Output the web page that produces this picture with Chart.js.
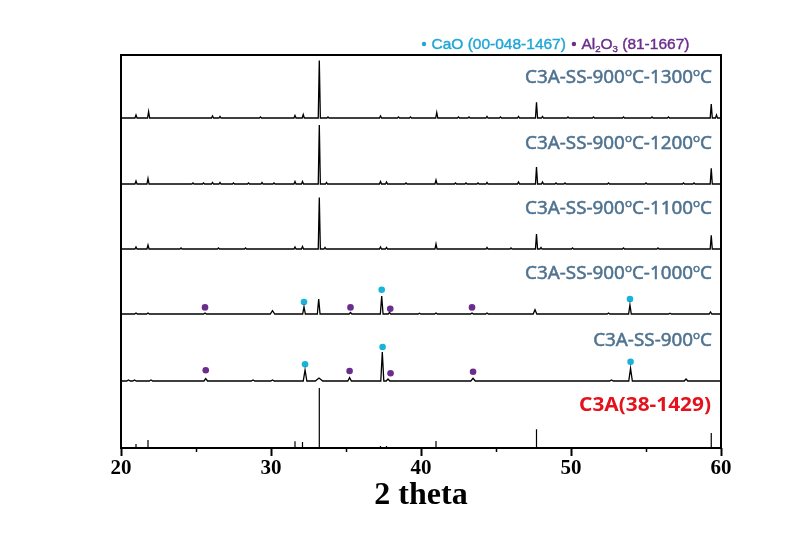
<!DOCTYPE html>
<html>
<head>
<meta charset="utf-8">
<script src="https://cdn.jsdelivr.net/npm/chart.js@4.4.1/dist/chart.umd.min.js"></script>
<style>
  html, body { margin: 0; padding: 0; background: #fff; }
  #wrap { width: 803px; height: 546px; }
</style>
</head>
<body>
<div id="wrap"><canvas id="xrdChart" width="803" height="546"></canvas></div>
<script>
// 2 theta axis
const xTicks = [20, 30, 40, 50, 60];
const xMinorTicks = [25, 35, 45, 55];

// sample traces, top to bottom ('^o' = superscript o)
const sampleLabels = [
  'C3A-SS-900^oC-1300^oC',
  'C3A-SS-900^oC-1200^oC',
  'C3A-SS-900^oC-1100^oC',
  'C3A-SS-900^oC-1000^oC',
  'C3A-SS-900^oC'
];
const sampleOffsets = [330, 264, 199, 134, 67];
const sampleHalfWidths = [0.07, 0.07, 0.07, 0.09, 0.12];

// peaks: [2theta, height, (half width)]
const peaks1300 = [[21.0, 3], [21.84, 6.5], [26.1, 2], [26.6, 1.5], [29.3, 1], [31.6, 2.5], [32.15, 3.5],
  [33.22, 57.6], [33.8, 1], [37.3, 2], [38.5, 1], [39.3, 1], [41.05, 5.5], [42.5, 1], [43.2, 1], [44.4, 1.5],
  [45.3, 1], [46.5, 1.5], [47.7, 15.6], [48.1, 1.5], [49.8, 1], [51.5, 1], [53.5, 1], [55.4, 1], [56.5, 1],
  [59.35, 14], [59.7, 3]];
const peaks1200 = [[21.0, 3], [21.8, 5.5], [24.8, 1], [25.5, 1], [26.1, 1.5], [26.6, 1.5], [27.5, 1], [28.5, 1],
  [29.4, 1.5], [30.2, 1], [31.6, 2.5], [32.1, 2.5], [33.22, 59], [33.7, 1.5], [37.3, 2.5], [37.7, 2], [39.0, 1],
  [41.0, 4], [42.3, 1], [43.0, 1], [43.8, 1], [44.4, 1.5], [46.5, 2], [47.7, 17], [48.1, 2], [49.0, 1], [49.6, 1],
  [52.5, 1], [55.0, 1], [57.5, 1], [58.2, 1], [59.35, 15.6]];
const peaks1100 = [[21.0, 2], [21.8, 4], [24.0, 1], [26.5, 1], [28.3, 1], [31.6, 2], [32.1, 2.5], [33.22, 51.5],
  [33.6, 1.5], [37.3, 2], [37.7, 1.5], [41.0, 5], [44.4, 1.5], [46.0, 1], [47.7, 15], [48.0, 1.5], [50.1, 1],
  [53.5, 1], [55.8, 1], [59.35, 13.6]];
const peaks1000 = [[21.0, 1], [21.8, 1], [25.6, 1], [30.1, 3.3, 0.15], [32.2, 7], [33.18, 15], [35.3, 1.5],
  [37.38, 18], [37.9, 1.5], [39.9, 0.8], [41.0, 1], [43.4, 1], [44.4, 1], [47.6, 4.3, 0.12], [52.5, 1],
  [53.93, 9], [56.6, 0.8], [59.3, 2]];
const peaks900 = [[20.5, 1], [20.9, 1], [22.0, 1], [25.65, 2.5], [28.8, 1], [30.1, 1], [32.27, 11], [33.2, 3, 0.25],
  [35.24, 3.3], [37.42, 29, 0.1], [37.8, 2], [43.47, 2.7, 0.15], [52.7, 1], [53.97, 12.7], [57.67, 2]];
const samplePeaks = [peaks1300, peaks1200, peaks1100, peaks1000, peaks900];

// reference pattern sticks: [2theta, height]
const refLabel = 'C3A(38-1429)';
const refSticks = [[20.6, 1], [21.0, 4], [21.8, 8], [25.0, 1], [26.1, 1], [27.0, 1], [29.5, 1], [31.6, 6.7],
  [32.1, 6], [33.22, 60], [35.1, 1], [37.3, 2], [37.7, 2], [39.0, 1], [41.0, 7], [41.5, 1], [43.3, 1], [44.4, 1],
  [45.6, 1], [46.2, 1], [47.7, 18.7], [48.1, 1], [49.9, 1], [55.5, 1], [58.2, 1], [59.35, 15]];

// phase markers [2theta, height above trace baseline]
const caoMarks1000 = [[32.2, 12], [37.38, 24.3], [53.93, 15]];
const alMarks1000 = [[25.6, 6.6], [35.3, 6.6], [37.95, 5.3], [43.4, 6.6]];
const caoMarks900 = [[32.27, 16.7], [37.44, 34], [53.97, 19.3]];
const alMarks900 = [[25.65, 10.7], [35.24, 10], [37.97, 7.7], [43.47, 9.3]];

const phaseLegend = [
  { text: 'CaO (00-048-1467)', color: '#1fa6d6' },
  { text: 'Al_2O_3 (81-1667)', color: '#6b2d8d' }
];

const CAO_COLOR = '#19b3da';
const AL_COLOR = '#6a2d8e';
const LABEL_COLOR = '#4f7390';

function buildTrace(peaks, offset, hw) {
  const pts = [{ x: 20, y: offset }];
  peaks.slice().sort((a, b) => a[0] - b[0]).forEach(p => {
    const w = p[2] !== undefined ? p[2] : hw;
    pts.push({ x: p[0] - w, y: offset });
    pts.push({ x: p[0], y: offset + p[1] });
    pts.push({ x: p[0] + w, y: offset });
  });
  pts.push({ x: 60, y: offset });
  return pts;
}

function buildMarks(marks, offset) {
  return marks.map(m => ({ x: m[0], y: offset + m[1] }));
}

const datasets = [];
samplePeaks.forEach((peaks, i) => {
  datasets.push({
    label: sampleLabels[i],
    data: buildTrace(peaks, sampleOffsets[i], sampleHalfWidths[i]),
    borderColor: '#000', borderWidth: 1.3, pointRadius: 0, tension: 0
  });
});
datasets.push({
  label: refLabel,
  data: buildTrace(refSticks, 0, 0),
  borderColor: '#000', borderWidth: 1.2, pointRadius: 0, tension: 0
});
[[caoMarks1000, 134, CAO_COLOR], [alMarks1000, 134, AL_COLOR],
 [caoMarks900, 67, CAO_COLOR], [alMarks900, 67, AL_COLOR]].forEach(m => {
  datasets.push({
    label: 'marks',
    data: buildMarks(m[0], m[1]),
    showLine: false, pointRadius: 3.3, pointBorderWidth: 0,
    pointBackgroundColor: m[2], pointBorderColor: m[2]
  });
});

// draw text with ^x superscript and _x subscript (heavy = thin outline for a semi-bold look)
function richWidth(ctx, text, size, family, weight) {
  let w = 0;
  for (let i = 0; i < text.length; i++) {
    const c = text[i];
    if ((c === '^' || c === '_') && i + 1 < text.length) {
      ctx.font = weight + ' ' + (size * 0.62) + 'px ' + family;
      w += ctx.measureText(text[i + 1]).width;
      i++;
    } else {
      ctx.font = weight + ' ' + size + 'px ' + family;
      w += ctx.measureText(c).width;
    }
  }
  return w;
}
function drawRich(ctx, text, x, y, size, family, weight, heavy) {
  ctx.textBaseline = 'alphabetic';
  ctx.textAlign = 'left';
  for (let i = 0; i < text.length; i++) {
    let c = text[i];
    let dy = 0;
    if ((c === '^' || c === '_') && i + 1 < text.length) {
      ctx.font = weight + ' ' + (size * 0.62) + 'px ' + family;
      dy = c === '^' ? -size * 0.38 : size * 0.18;
      c = text[i + 1];
      i++;
    } else {
      ctx.font = weight + ' ' + size + 'px ' + family;
    }
    ctx.fillText(c, x, y + dy);
    if (heavy) ctx.strokeText(c, x, y + dy);
    x += ctx.measureText(c).width;
  }
}

const decorPlugin = {
  id: 'decor',
  afterDraw(chart) {
    const ctx = chart.ctx;
    const a = chart.chartArea;
    const xs = chart.scales.x;
    const ys = chart.scales.y;
    ctx.save();
    // frame
    ctx.strokeStyle = '#000';
    ctx.lineWidth = 2;
    ctx.strokeRect(a.left, a.top, a.right - a.left, a.bottom - a.top);
    // minor ticks
    ctx.lineWidth = 1.5;
    xMinorTicks.forEach(v => {
      const px = Math.round(xs.getPixelForValue(v)) + 0.5;
      ctx.beginPath();
      ctx.moveTo(px, a.bottom);
      ctx.lineTo(px, a.bottom + 4);
      ctx.stroke();
    });

    // sample labels
    const fam = '"Noto Sans"';
    const size = 18.5;
    const sx = 187 / richWidth(ctx, sampleLabels[0], size, fam, 'normal');
    ctx.fillStyle = LABEL_COLOR;
    ctx.strokeStyle = LABEL_COLOR;
    ctx.lineWidth = 0.5;
    sampleLabels.forEach((lab, i) => {
      const yMid = ys.getPixelForValue(sampleOffsets[i] + 42);
      const w = richWidth(ctx, lab, size, fam, 'normal') * sx;
      ctx.save();
      ctx.translate(a.right - 9 - w, yMid + size * 0.36);
      ctx.scale(sx, 1);
      drawRich(ctx, lab, 0, 0, size, fam, 'normal', true);
      ctx.restore();
    });

    // reference label
    const rsize = 20;
    const rw0 = richWidth(ctx, refLabel, rsize, fam, 'bold');
    const rsx = 132 / rw0;
    ctx.fillStyle = '#e3121c';
    ctx.save();
    ctx.translate(a.right - 10 - rw0 * rsx, ys.getPixelForValue(44.7) + rsize * 0.36);
    ctx.scale(rsx, 1);
    drawRich(ctx, refLabel, 0, 0, rsize, fam, 'bold', false);
    ctx.restore();

    // phase legend above the frame
    let lx = 424;
    const ly = 49;
    const lsize = 15.5;
    const lfam = '"Liberation Sans"';
    ctx.lineWidth = 0.4;
    phaseLegend.forEach(item => {
      ctx.fillStyle = item.color;
      ctx.strokeStyle = item.color;
      ctx.beginPath();
      ctx.arc(lx, ly - 5, 2.2, 0, Math.PI * 2);
      ctx.fill();
      drawRich(ctx, item.text, lx + 7.5, ly, lsize, lfam, 'normal', true);
      lx += 7.5 + richWidth(ctx, item.text, lsize, lfam, 'normal') + 8;
    });
    ctx.restore();
  }
};

const ctx = document.getElementById('xrdChart').getContext('2d');
const xrdChart = new Chart(ctx, {
  type: 'line',
  data: { datasets: datasets },
  options: {
    responsive: false,
    animation: false,
    devicePixelRatio: 1,
    layout: { padding: { left: 121, right: 82, top: 55, bottom: 0 } },
    plugins: { legend: { display: false }, tooltip: { enabled: false } },
    elements: { line: { borderJoinStyle: 'miter' } },
    scales: {
      x: {
        type: 'linear',
        min: 20,
        max: 60,
        afterFit: s => { s.height = 98; },
        afterBuildTicks: s => { s.ticks = xTicks.map(v => ({ value: v })); },
        border: { display: false },
        grid: { drawOnChartArea: false, drawTicks: true, tickLength: 8, tickWidth: 2, tickColor: '#000' },
        ticks: {
          color: '#000',
          padding: 0,
          maxRotation: 0,
          font: { family: '"Liberation Serif"', size: 21, weight: 'bold' }
        },
        title: {
          display: true,
          text: '2 theta',
          color: '#000',
          padding: { top: 0, bottom: 31 },
          font: { family: '"Liberation Serif"', size: 32, weight: 'bold' }
        }
      },
      y: { display: false, min: 0, max: 393 }
    }
  },
  plugins: [decorPlugin]
});
</script>
</body>
</html>
